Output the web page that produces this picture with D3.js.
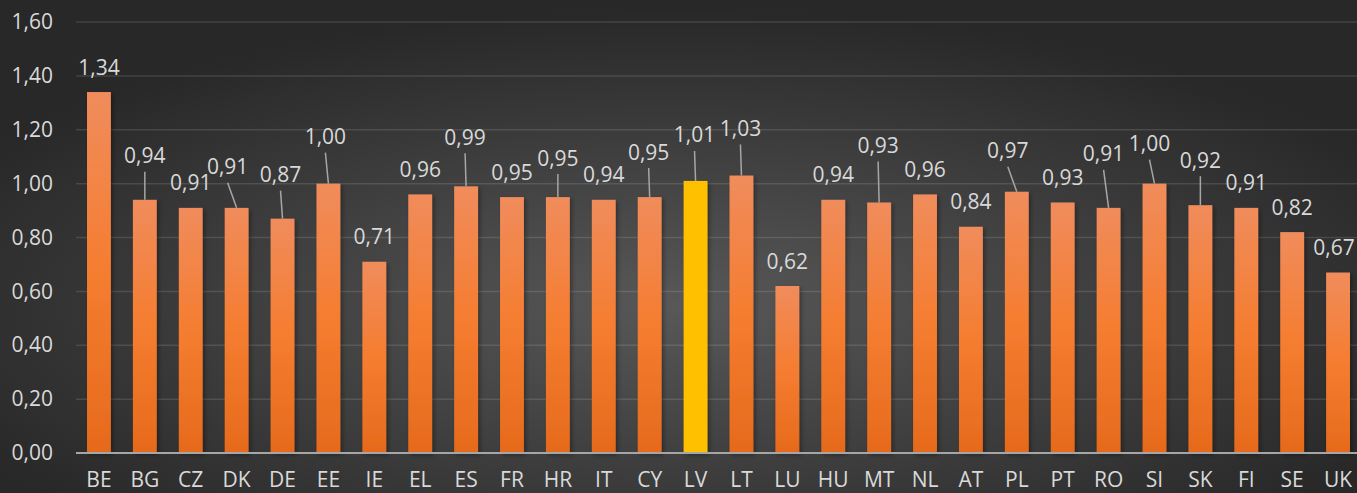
<!DOCTYPE html>
<html>
<head>
<meta charset="utf-8">
<script src="https://cdn.jsdelivr.net/npm/d3@7"></script>
<style>
  html, body { margin: 0; padding: 0; background: #2b2b2b; overflow: hidden; }
  svg { display: block; font-family: "Open Sans", sans-serif; }
</style>
</head>
<body>
<svg width="1357" height="493"></svg>
<script>
  // data
  const countries = ["BE", "BG", "CZ", "DK", "DE", "EE", "IE", "EL", "ES", "FR", "HR", "IT", "CY", "LV",
    "LT", "LU", "HU", "MT", "NL", "AT", "PL", "PT", "RO", "SI", "SK", "FI", "SE", "UK"];
  const values = [1.34, 0.94, 0.91, 0.91, 0.87, 1.00, 0.71, 0.96, 0.99, 0.95, 0.95, 0.94, 0.95, 1.01,
    1.03, 0.62, 0.94, 0.93, 0.96, 0.84, 0.97, 0.93, 0.91, 1.00, 0.92, 0.91, 0.82, 0.67];
  const highlight = "LV";
  const yTicks = [0, 0.2, 0.4, 0.6, 0.8, 1.0, 1.2, 1.4, 1.6];

  // hand-placed labels (pixel nudges away from the default spot, like in the source chart)
  const labelNudge = {
    BG: [0, -19], DK: [-9, -16], DE: [-2, -19], EE: [-3, -22], ES: [-1, -24], HR: [0, -14],
    CY: [-1, -20], LV: [-1, -21], LT: [-1, -22], MT: [-1, -32], PL: [-9, -16], RO: [-5, -29],
    SI: [-5, -15], SK: [0, -20]
  };
  // no leader line, just kept inside the right edge
  const edgeNudge = { UK: [-4, 0] };

  const svg = d3.select("svg");
  const width = 1357, height = 493;
  const fmt = d => d.toFixed(2).replace(".", ",");

  const defs = svg.append("defs");

  const bg = defs.append("radialGradient").attr("id", "bg")
    .attr("cx", "50%").attr("cy", "62%").attr("r", "60%");
  bg.append("stop").attr("offset", "0%").attr("stop-color", "#585858");
  bg.append("stop").attr("offset", "100%").attr("stop-color", "#282828");

  const barGrad = defs.append("linearGradient").attr("id", "barGrad")
    .attr("x1", 0).attr("y1", 0).attr("x2", 0).attr("y2", 1);
  barGrad.append("stop").attr("offset", "0%").attr("stop-color", "#f08c5c");
  barGrad.append("stop").attr("offset", "50%").attr("stop-color", "#f57d30");
  barGrad.append("stop").attr("offset", "100%").attr("stop-color", "#e66a1c");

  const shadow = defs.append("filter").attr("id", "shadow")
    .attr("x", "-30%").attr("y", "-10%").attr("width", "160%").attr("height", "120%");
  shadow.append("feDropShadow").attr("dx", 2).attr("dy", 2).attr("stdDeviation", 2)
    .attr("flood-color", "#000").attr("flood-opacity", 0.35);

  svg.append("rect").attr("width", width).attr("height", height).attr("fill", "url(#bg)");

  const x = d3.scaleBand()
    .domain(countries)
    .range([76, 1361])
    .paddingInner(0.48)
    .paddingOuter(0.24);

  const y = d3.scaleLinear().domain([0, 1.6]).range([453, 22]);

  // gridlines
  svg.append("g")
    .selectAll("line")
    .data(yTicks.filter(t => t > 0))
    .enter()
    .append("line")
    .attr("x1", 76)
    .attr("x2", width)
    .attr("y1", d => y(d))
    .attr("y2", d => y(d))
    .attr("stroke", "#ffffff")
    .attr("stroke-opacity", 0.12)
    .attr("stroke-width", 1.5);

  // y tick labels
  const yAxis = svg.append("g")
    .attr("transform", "translate(76,0)")
    .call(d3.axisLeft(y).tickValues(yTicks).tickSize(0).tickPadding(23).tickFormat(fmt));
  yAxis.select(".domain").remove();
  yAxis.selectAll("text")
    .attr("fill", "#d9d9d9")
    .style("font-size", "21px")
    .style("font-family", "'Open Sans', sans-serif");

  const data = countries.map((c, i) => ({ c: c, v: values[i] }));

  // bars
  svg.append("g")
    .selectAll("rect")
    .data(data)
    .enter()
    .append("rect")
    .attr("x", d => x(d.c))
    .attr("y", d => y(d.v))
    .attr("width", x.bandwidth())
    .attr("height", d => y(0) - y(d.v))
    .attr("fill", d => d.c === highlight ? "#ffc000" : "url(#barGrad)")
    .attr("filter", "url(#shadow)");

  // baseline
  svg.append("line")
    .attr("x1", 76).attr("x2", width)
    .attr("y1", y(0)).attr("y2", y(0))
    .attr("stroke", "#a6a6a6")
    .attr("stroke-width", 2);

  // x labels (the reference crops them at the bottom edge, keep them just inside)
  const xAxis = svg.append("g")
    .attr("transform", "translate(0," + y(0) + ")")
    .call(d3.axisBottom(x).tickSize(0).tickPadding(19));
  xAxis.select(".domain").remove();
  xAxis.selectAll("text")
    .attr("fill", "#d9d9d9")
    .style("font-size", "21px")
    .style("font-family", "'Open Sans', sans-serif");

  // data labels with leader lines
  const labelPos = d => {
    const n = labelNudge[d.c] || edgeNudge[d.c] || [0, 0];
    return [x(d.c) + x.bandwidth() / 2 + n[0], y(d.v) - 25 + n[1]];
  };

  svg.append("g")
    .selectAll("line")
    .data(data.filter(d => labelNudge[d.c]))
    .enter()
    .append("line")
    .attr("x1", d => labelPos(d)[0])
    .attr("y1", d => labelPos(d)[1] + 16)
    .attr("x2", d => x(d.c) + x.bandwidth() / 2)
    .attr("y2", d => y(d.v))
    .attr("stroke", "#a6a6a6")
    .attr("stroke-width", 1.5);

  svg.append("g")
    .selectAll("text")
    .data(data)
    .enter()
    .append("text")
    .attr("x", d => labelPos(d)[0])
    .attr("y", d => labelPos(d)[1])
    .attr("dy", "0.36em")
    .attr("text-anchor", "middle")
    .attr("fill", "#d9d9d9")
    .style("font-size", "21px")
    .text(d => fmt(d.v));
</script>
</body>
</html>
